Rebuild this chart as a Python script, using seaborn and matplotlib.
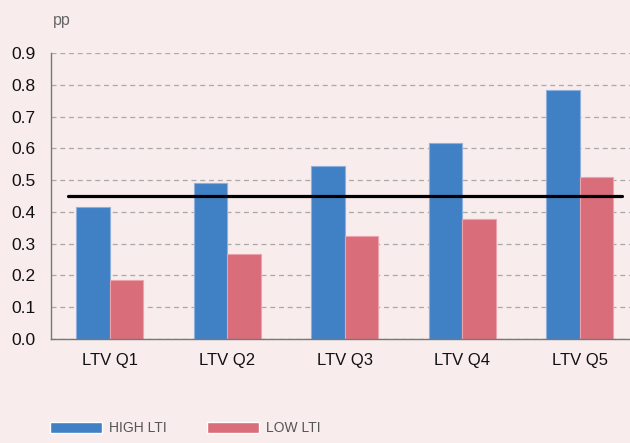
import matplotlib
matplotlib.use("Agg")
import matplotlib.pyplot as plt
import pandas as pd
import seaborn as sns
from matplotlib.patches import Patch

categories = ["LTV Q1", "LTV Q2", "LTV Q3", "LTV Q4", "LTV Q5"]
high_lti = [0.414, 0.490, 0.545, 0.616, 0.783]
low_lti = [0.185, 0.266, 0.324, 0.378, 0.510]
average = 0.451
series = ["HIGH LTI", "LOW LTI"]

bg = "#f8ecec"
blue = "#4080c4"
red = "#d96d7a"

sns.set_style("white")
plt.rcParams["font.family"] = ["Liberation Sans", "DejaVu Sans"]

df = pd.DataFrame({
    "cat": categories * 2,
    "val": high_lti + low_lti,
    "series": [series[0]] * 5 + [series[1]] * 5,
})

fig = plt.figure(figsize=(6.3, 4.43), dpi=100, facecolor=bg)
ax = fig.add_axes([51 / 630, 1 - 339 / 443, 587.5 / 630, 286 / 443])
ax.set_facecolor(bg)

sns.barplot(data=df, x="cat", y="val", hue="series", palette=[blue, red],
            width=0.57, saturation=1, legend=False, ax=ax, zorder=3)

for i, p in enumerate(ax.patches):
    p.set_edgecolor("#8fb0dc" if i < 5 else "#eba3ac")
    p.set_linewidth(0.8)

ax.plot([-0.355, 4.36], [average, average], color="black", lw=2.3, zorder=4)

ax.set_xlim(-0.5, 4.5)
ax.set_ylim(0, 0.9)
ax.set_yticks([i / 10 for i in range(10)])
ax.set_yticklabels([f"{i / 10:.1f}" for i in range(10)], fontsize=12.5)
ax.set_xticks(range(5))
ax.set_xticklabels(categories, fontsize=12)
ax.set_xticks([0.5, 1.5, 2.5, 3.5], minor=True)
ax.tick_params(axis="x", which="major", length=0, pad=10, colors="#111111")
ax.tick_params(axis="x", which="minor", length=4, direction="in", color="#777777", width=1)
ax.tick_params(axis="y", length=0, pad=11, colors="#111111")
ax.set_xlabel("")
ax.set_ylabel("")

ax.grid(axis="y", linestyle=(0, (4, 3)), color="#aaaaaa", lw=0.9, zorder=0)
ax.grid(axis="x", visible=False)
for s in ["top", "right"]:
    ax.spines[s].set_visible(False)
for s in ["left", "bottom"]:
    ax.spines[s].set_color("#777777")
    ax.spines[s].set_linewidth(1)
    ax.spines[s].set_zorder(5)

fig.text(53 / 630, 1 - 20 / 443, "pp", fontsize=11.5, color="#666666", va="center")

handles = [Patch(facecolor=blue), Patch(facecolor=red)]
fig.legend(handles, series, loc="lower left", bbox_to_anchor=(42 / 630, 0),
           ncol=2, frameon=False, handlelength=3.75, handleheight=0.9,
           handletextpad=0.5, columnspacing=2.9, borderpad=0.05,
           prop={"size": 10}, labelcolor="#555555")

fig.savefig("out.png", dpi=100, facecolor=bg)
